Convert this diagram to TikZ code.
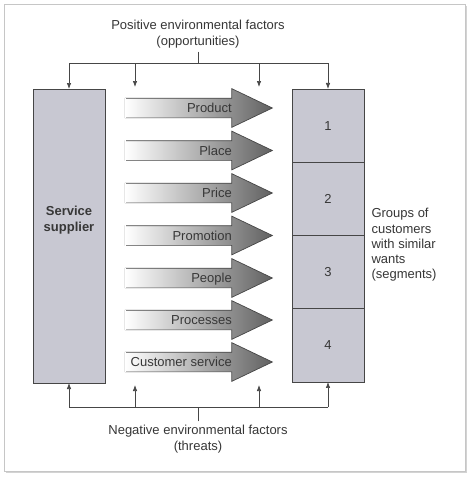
\documentclass[tikz,border=0pt]{standalone}
\usepackage{fontspec}
\setmainfont{Liberation Sans}
\usetikzlibrary{arrows.meta,positioning,shapes.arrows,shadows}
\definecolor{boxgray}{RGB}{200,200,210}
\definecolor{linegray}{RGB}{70,70,70}
\definecolor{txtgray}{RGB}{55,55,55}

\begin{document}
\begin{tikzpicture}[x=1pt,y=-1pt,
    every node/.style={font=\fontsize{13}{16}\selectfont, text=txtgray},
    box/.style={draw=linegray, fill=boxgray, line width=0.8pt, inner sep=0pt, outer sep=0pt, minimum width=72pt},
    mixarrow/.style={single arrow, draw=linegray, line width=0.7pt, left color=white, right color=black!62,
        minimum height=147pt, single arrow head extend=9.5pt, outer sep=0pt,
        single arrow tip angle=51, inner xsep=0pt, inner ysep=9.5pt},
    mixlabel/.style={anchor=east, inner sep=0pt, text height=9.5pt, text depth=0pt},
    opentail/.style={draw=white, line width=1pt},
    conn/.style={draw=linegray, line width=0.7pt},
    arr/.style={-{Latex[length=6pt,width=4.5pt]}}
]
    \useasboundingbox (0,0) rectangle (469,479);
    \draw[gray!45, line width=1pt, fill=white,
        drop shadow={shadow xshift=1.5pt, shadow yshift=-1.5pt, opacity=0.35}] (4,4) rectangle (465,471);

    % service supplier and segments
    \node[box, minimum height=294pt] (sup) at (69,236) {};
    \node[font=\fontsize{13}{16}\selectfont\bfseries, align=center] (suptxt) at (69,220) {Service\\supplier};

    \node[box, minimum height=73.25pt] (s1) at (328,125.6) {1};
    \node[box, minimum height=73.25pt, below=0pt of s1] (s2) {2};
    \node[box, minimum height=73.25pt, below=0pt of s2] (s3) {3};
    \node[box, minimum height=73.25pt, below=0pt of s3] (s4) {4};
    \node[anchor=west, align=left, font=\fontsize{13}{15.3}\selectfont] (grp) at (368,245)
        {Groups of\\customers\\with similar\\wants\\(segments)};

    % marketing mix
    \node[mixarrow] (a1) at (188.5,108) {};
    \node[mixarrow] (a2) at (188.5,150.5) {};
    \node[mixarrow] (a3) at (188.5,193) {};
    \node[mixarrow] (a4) at (188.5,235.5) {};
    \node[mixarrow] (a5) at (188.5,278) {};
    \node[mixarrow] (a6) at (188.5,320) {};
    \node[mixarrow] (a7) at (188.5,362) {};

    % tails are left open
    \draw[opentail] ([yshift=-0.4pt]a1.before tail) -- ([yshift=0.4pt]a1.after tail);
    \draw[opentail] ([yshift=-0.4pt]a2.before tail) -- ([yshift=0.4pt]a2.after tail);
    \draw[opentail] ([yshift=-0.4pt]a3.before tail) -- ([yshift=0.4pt]a3.after tail);
    \draw[opentail] ([yshift=-0.4pt]a4.before tail) -- ([yshift=0.4pt]a4.after tail);
    \draw[opentail] ([yshift=-0.4pt]a5.before tail) -- ([yshift=0.4pt]a5.after tail);
    \draw[opentail] ([yshift=-0.4pt]a6.before tail) -- ([yshift=0.4pt]a6.after tail);
    \draw[opentail] ([yshift=-0.4pt]a7.before tail) -- ([yshift=0.4pt]a7.after tail);

    \node[mixlabel] (l1) at (232,108) {Product};
    \node[mixlabel] (l2) at (232,150.5) {Place};
    \node[mixlabel] (l3) at (232,193) {Price};
    \node[mixlabel] (l4) at (232,235.5) {Promotion};
    \node[mixlabel] (l5) at (232,278) {People};
    \node[mixlabel] (l6) at (232,320) {Processes};
    \node[mixlabel] (l7) at (232,362) {Customer service};

    % positive factors
    \node[align=center] (pos) at (198,34) {Positive environmental factors\\(opportunities)};
    \coordinate (tj) at (198,63);
    \coordinate (tl) at (69,63);
    \coordinate (tr) at (328,63);
    \coordinate (t2) at (135,63);
    \coordinate (t3) at (259,63);
    \coordinate (t2e) at (135,87);
    \coordinate (t3e) at (259,87);
    \draw[conn] (pos) -- (tj);
    \draw[conn] (tl) -- (tr);
    \draw[conn, arr] (tl) -- (sup.north);
    \draw[conn, arr] (t2) -- (t2e);
    \draw[conn, arr] (t3) -- (t3e);
    \draw[conn, arr] (tr) -- (s1.north);

    % negative factors
    \node[align=center] (neg) at (198,439) {Negative environmental factors\\(threats)};
    \coordinate (bj) at (198,407);
    \coordinate (bl) at (69,407);
    \coordinate (br) at (328,407);
    \coordinate (b2) at (135,407);
    \coordinate (b3) at (259,407);
    \coordinate (b2e) at (135,385);
    \coordinate (b3e) at (259,385);
    \draw[conn] (neg) -- (bj);
    \draw[conn] (bl) -- (br);
    \draw[conn, arr] (bl) -- (sup.south);
    \draw[conn, arr] (b2) -- (b2e);
    \draw[conn, arr] (b3) -- (b3e);
    \draw[conn, arr] (br) -- (s4.south);
\end{tikzpicture}
\end{document}
